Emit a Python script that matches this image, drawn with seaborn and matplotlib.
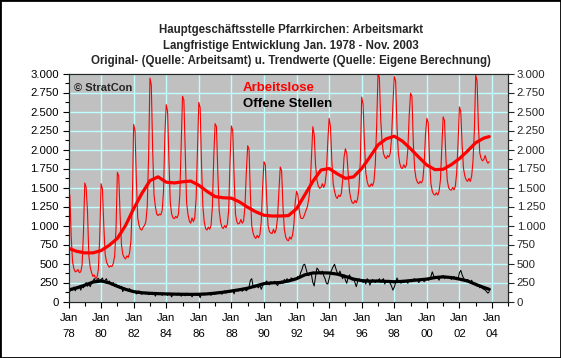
import numpy as np
import pandas as pd
import matplotlib
matplotlib.use("Agg")
import matplotlib.pyplot as plt
import seaborn as sns
from matplotlib.ticker import MultipleLocator, FuncFormatter, FixedLocator
from matplotlib.patches import Rectangle

# ---------------- data ----------------
# Arbeitslose, monthly Jan 1978 - Nov 2003
arbeitslose = [
    1450, 1400, 850, 520, 430, 390, 400, 420, 380, 390, 480, 900,      # 1978
    1560, 1500, 1180, 600, 450, 380, 330, 350, 300, 320, 420, 850,     # 1979
    1550, 1480, 1000, 620, 520, 480, 450, 470, 460, 500, 600, 950,     # 1980
    1700, 1650, 1150, 750, 620, 580, 560, 600, 580, 640, 800, 1300,    # 1981
    2330, 2250, 1600, 1100, 1000, 950, 940, 980, 1000, 1050, 1250, 1900,  # 1982
    2940, 2850, 2000, 1400, 1250, 1150, 1130, 1150, 1140, 1200, 1450, 2200,  # 1983
    2590, 2500, 1850, 1300, 1150, 1100, 1090, 1120, 1100, 1150, 1400, 2050,  # 1984
    2700, 2650, 1950, 1300, 1150, 1060, 1030, 1100, 1050, 1100, 1350, 2000,  # 1985
    2620, 2550, 1800, 1250, 1050, 960, 940, 980, 950, 1000, 1250, 1900,  # 1986
    2340, 2300, 1700, 1200, 1050, 980, 960, 1000, 970, 1020, 1200, 1850,  # 1987
    2310, 2250, 1650, 1150, 1050, 1020, 1030, 1080, 1030, 1060, 1250, 1700,  # 1988
    2050, 2000, 1400, 1000, 900, 850, 830, 870, 840, 880, 1050, 1500,  # 1989
    1840, 1800, 1350, 1000, 920, 900, 895, 950, 900, 950, 1100, 1450,  # 1990
    1770, 1720, 1250, 950, 850, 810, 800, 850, 820, 870, 1000, 1300,   # 1991
    1450, 1400, 1200, 1100, 1090, 1100, 1150, 1200, 1250, 1350, 1500, 1900,  # 1992
    2300, 2200, 1800, 1600, 1520, 1490, 1500, 1550, 1500, 1550, 1700, 2100,  # 1993
    2410, 2300, 1850, 1550, 1450, 1380, 1355, 1400, 1380, 1420, 1600, 1900,  # 1994
    2010, 1950, 1700, 1450, 1350, 1300, 1290, 1330, 1300, 1350, 1500, 1850,  # 1995
    2690, 2600, 2100, 1700, 1580, 1520, 1510, 1550, 1520, 1580, 1800, 2300,  # 1996
    3000, 2950, 2400, 2100, 1950, 1900, 1880, 1920, 1900, 1950, 2150, 2600,  # 1997
    2960, 2900, 2300, 1950, 1820, 1760, 1750, 1800, 1760, 1800, 2000, 2450,  # 1998
    2740, 2700, 2100, 1750, 1620, 1570, 1550, 1580, 1560, 1600, 1800, 2200,  # 1999
    2410, 2350, 1850, 1550, 1450, 1410, 1400, 1430, 1400, 1450, 1600, 2000,  # 2000
    2430, 2380, 1900, 1600, 1500, 1470, 1465, 1500, 1470, 1520, 1700, 2100,  # 2001
    2560, 2500, 2050, 1750, 1650, 1600, 1580, 1620, 1580, 1650, 1850, 2250,  # 2002
    2980, 2900, 2300, 1950, 1880, 1850, 1870, 1920, 1850, 1820, 1840,        # 2003
]

# Offene Stellen, monthly Jan 1978 - Nov 2003
offene_stellen = [
    160, 130, 175, 150, 190, 140, 180, 165, 200, 150, 195, 180,   # 1978
    210, 250, 200, 230, 195, 240, 270, 300, 260, 290, 305, 270,   # 1979
    290, 310, 250, 280, 300, 240, 270, 230, 220, 250, 200, 230,   # 1980
    190, 210, 170, 200, 130, 180, 160, 150, 140, 170, 130, 140,   # 1981
    120, 130, 100, 110, 140, 105, 95, 120, 110, 100, 115, 90,     # 1982
    100, 115, 90, 110, 70, 120, 100, 95, 110, 80, 105, 100,       # 1983
    100, 80, 110, 95, 60, 105, 90, 100, 85, 110, 95, 70,          # 1984
    90, 100, 75, 110, 95, 85, 100, 60, 95, 105, 90, 80,           # 1985
    95, 50, 100, 110, 85, 95, 100, 90, 105, 80, 110, 95,          # 1986
    100, 120, 105, 130, 115, 95, 125, 140, 110, 130, 120, 135,    # 1987
    130, 150, 100, 160, 145, 140, 170, 150, 135, 155, 165, 140,   # 1988
    160, 190, 280, 300, 200, 180, 210, 195, 180, 220, 160, 210,   # 1989
    230, 250, 270, 230, 220, 260, 240, 250, 265, 230, 210, 240,   # 1990
    250, 270, 240, 290, 270, 300, 280, 260, 310, 300, 280, 290,   # 1991
    300, 330, 310, 380, 420, 480, 490, 430, 360, 340, 380, 350,   # 1992
    250, 205, 330, 440, 420, 380, 360, 400, 340, 300, 240, 230,   # 1993
    300, 380, 420, 460, 490, 430, 380, 360, 400, 340, 300, 350,   # 1994
    280, 240, 320, 350, 310, 280, 300, 250, 195, 260, 300, 280,   # 1995
    290, 250, 270, 230, 300, 280, 215, 260, 290, 270, 250, 280,   # 1996
    260, 300, 250, 280, 300, 230, 270, 260, 280, 240, 200, 150,   # 1997
    190, 250, 310, 270, 260, 240, 280, 250, 270, 260, 240, 280,   # 1998
    270, 260, 290, 300, 280, 285, 250, 270, 300, 290, 260, 280,   # 1999
    300, 280, 290, 330, 390, 340, 300, 320, 310, 280, 330, 310,   # 2000
    340, 300, 330, 310, 320, 330, 290, 310, 330, 300, 320, 290,   # 2001
    380, 410, 350, 310, 280, 260, 290, 270, 250, 280, 240, 230,   # 2002
    240, 200, 220, 180, 190, 170, 160, 150, 130, 110, 130,        # 2003
]

# Trend values, every half year from Jan 1978 (last = Nov 2003)
trend_arbeitslose = [
    700, 660, 640, 640, 670, 740, 830, 1000, 1220, 1420, 1590, 1640,
    1570, 1560, 1575, 1585, 1530, 1450, 1380, 1365, 1360, 1310, 1240, 1180,
    1135, 1125, 1125, 1130, 1220, 1400, 1580, 1730, 1750, 1680, 1620, 1640,
    1750, 1900, 2060, 2140, 2175, 2110, 2010, 1900, 1795, 1735, 1740, 1800,
    1880, 1980, 2090, 2150, 2170,
]
trend_offene = [
    150, 180, 215, 255, 270, 245, 200, 160, 130, 115, 108, 103,
    100, 97, 95, 94, 95, 100, 110, 122, 138, 155, 175, 205,
    235, 245, 250, 270, 300, 350, 375, 378, 375, 360, 330, 295,
    275, 268, 270, 265, 260, 265, 275, 285, 295, 315, 325, 315,
    295, 270, 225, 185, 160,
]

tick_years = list(range(1978, 2005, 2))
tick_labels = [f"Jan\n{y % 100:02d}" for y in tick_years]

title_lines = [
    "Hauptgeschäftsstelle Pfarrkirchen: Arbeitsmarkt",
    "Langfristige Entwicklung Jan. 1978 - Nov. 2003",
    "Original- (Quelle: Arbeitsamt) u. Trendwerte (Quelle: Eigene Berechnung)",
]

# ---------------- frames ----------------
n_m = len(arbeitslose)
t_month = 1978 + np.arange(n_m) / 12.0
df_m = pd.DataFrame({"t": t_month, "al": arbeitslose, "os": offene_stellen})
t_trend = 1978 + np.arange(len(trend_arbeitslose)) * 0.5
t_trend[-1] = 1978 + (n_m - 1) / 12.0
df_t = pd.DataFrame({"t": t_trend, "al": trend_arbeitslose, "os": trend_offene})

# ---------------- plotting ----------------
sns.set_style("white")
plt.rcParams["font.family"] = ["Liberation Sans", "DejaVu Sans"]

W, H = 561, 358
fig = plt.figure(figsize=(W / 100, H / 100), dpi=100, facecolor="white")
left, right, top, bottom = 68.5, 508.3, 73.5, 301.5
ax = fig.add_axes([left / W, 1 - bottom / H, (right - left) / W, (bottom - top) / H])
ax.set_facecolor("#C0C0C0")

sns.lineplot(data=df_m, x="t", y="al", ax=ax, color="#FF0000", linewidth=0.8, zorder=3)
sns.lineplot(data=df_t, x="t", y="al", ax=ax, color="#FF0000", linewidth=2.3, zorder=4)
sns.lineplot(data=df_m, x="t", y="os", ax=ax, color="black", linewidth=0.75, zorder=5)
sns.lineplot(data=df_t, x="t", y="os", ax=ax, color="black", linewidth=2.3, zorder=6)

ax.set_xlim(1978, 2005)
ax.set_ylim(0, 3000)
ax.set_xlabel("")
ax.set_ylabel("")

fmt = FuncFormatter(lambda v, p: f"{int(round(v)):,}".replace(",", "."))
ax.yaxis.set_major_locator(MultipleLocator(250))
ax.yaxis.set_minor_locator(MultipleLocator(125))
ax.yaxis.set_major_formatter(fmt)
ax.xaxis.set_major_locator(FixedLocator(tick_years))
ax.xaxis.set_minor_locator(MultipleLocator(1))
ax.set_xticklabels(tick_labels, linespacing=1.75)

ax.grid(True, which="major", color="#BFFFFF", linewidth=1.0, zorder=1)
ax.set_axisbelow(True)

for s in ax.spines.values():
    s.set_color("black")
    s.set_linewidth(0.8)

ax.tick_params(axis="both", which="major", direction="out", length=4, width=0.8,
               color="black", labelsize=8.2, labelcolor="black")
ax.tick_params(axis="both", which="minor", direction="out", length=3, width=0.8, color="black")
ax.tick_params(axis="y", which="both", left=True, right=False, pad=3)
ax.tick_params(axis="x", which="both", bottom=True, pad=4)

ax2 = ax.twinx()
ax2.set_ylim(0, 3000)
ax2.yaxis.set_major_locator(MultipleLocator(250))
ax2.yaxis.set_minor_locator(MultipleLocator(125))
ax2.yaxis.set_major_formatter(fmt)
ax2.tick_params(axis="y", which="major", direction="out", length=4, width=0.8,
                labelsize=8.2, pad=2, right=True)
ax2.tick_params(axis="y", which="minor", direction="out", length=3, width=0.8, right=True)
for s in ax2.spines.values():
    s.set_linewidth(0.8)
ax2.grid(False)

# texts
cx = 291 / W
for i, line in enumerate(title_lines):
    fig.text(cx, 1 - (30 + i * 15.5) / H, line, ha="center", va="center",
             fontsize=8.3, fontweight="bold")

fig.text(74 / W, 1 - 88 / H, "© StratCon", fontsize=8, fontweight="bold",
         ha="left", va="center")
fig.text(243 / W, 1 - 88 / H, "Arbeitslose", fontsize=9.5, fontweight="bold",
         color="#FF0000", ha="left", va="center")
fig.text(243 / W, 1 - 104 / H, "Offene Stellen", fontsize=9.5, fontweight="bold",
         color="black", ha="left", va="center")

fig.patches.append(Rectangle((0, 0), 1, 1, transform=fig.transFigure, fill=False,
                             edgecolor="black", linewidth=2.0))

fig.savefig("out.png", dpi=100, facecolor="white")
